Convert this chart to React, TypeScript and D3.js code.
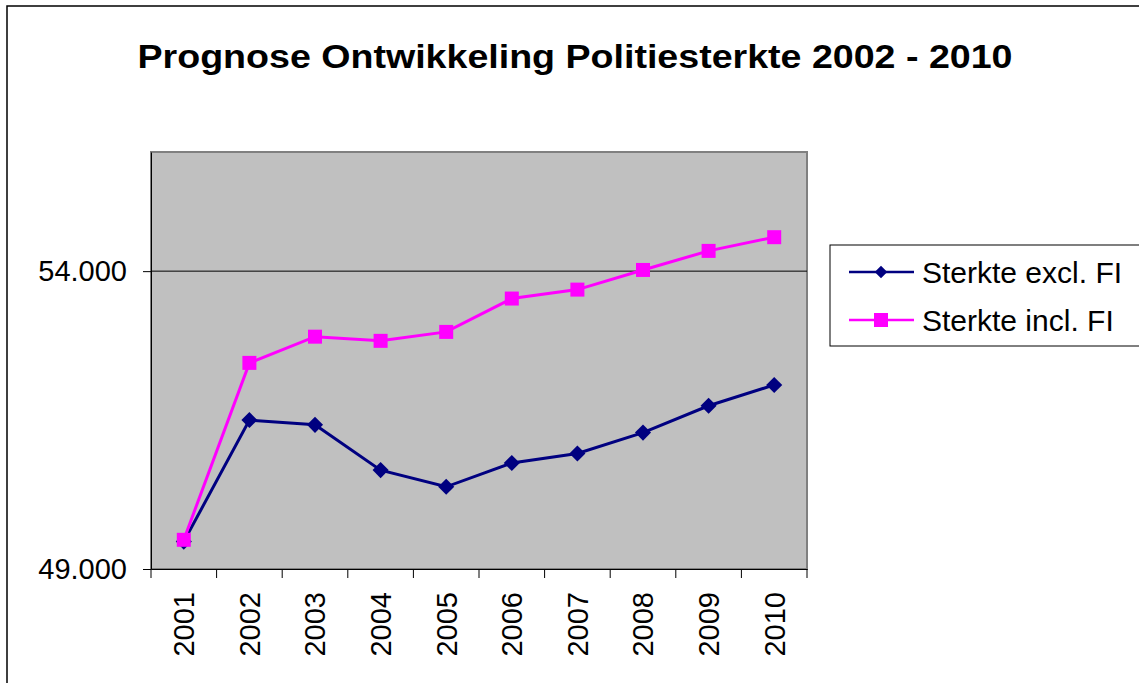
import React, { useEffect, useRef } from 'react';
import * as d3 from 'd3';

const years = ['2001', '2002', '2003', '2004', '2005', '2006', '2007', '2008', '2009', '2010'];
const excl = [49460, 51500, 51420, 50660, 50380, 50780, 50940, 51290, 51740, 52090];
const incl = [49490, 52460, 52900, 52830, 52980, 53540, 53690, 54020, 54340, 54570];
const yTicks = [49000, 54000];
const seriesNames = ['Sterkte excl. FI', 'Sterkte incl. FI'];

const App: React.FC = () => {
  const svgRef = useRef<SVGSVGElement>(null);

  useEffect(() => {
    if (!svgRef.current) return;
    const svg = d3.select(svgRef.current);
    svg.selectAll('*').remove();

    const width = 1139;
    const height = 683;
    const plot = { left: 151, right: 807, top: 152, bottom: 569 };
    const font = 'Liberation Sans, Arial, sans-serif';

    svg.attr('width', width).attr('height', height);
    svg.append('rect').attr('width', width).attr('height', height).attr('fill', '#fff');

    // outer chart border (right/bottom run off the picture)
    svg.append('rect')
      .attr('x', 7).attr('y', 6).attr('width', 1150).attr('height', 700)
      .attr('fill', 'none').attr('stroke', '#000').attr('stroke-width', 1.5);

    // title
    svg.append('text')
      .attr('x', 575).attr('y', 68)
      .attr('text-anchor', 'middle')
      .attr('font-family', font).attr('font-weight', 'bold').attr('font-size', 34)
      .attr('textLength', 875).attr('lengthAdjust', 'spacingAndGlyphs')
      .text('Prognose Ontwikkeling Politiesterkte 2002 - 2010');

    const x = d3.scaleBand().domain(years).range([plot.left, plot.right]).padding(0);
    const y = d3.scaleLinear().domain([49000, 56000]).range([plot.bottom, plot.top]);
    const cx = (d: string) => x(d)! + x.bandwidth() / 2;

    // plot area
    svg.append('rect')
      .attr('x', plot.left).attr('y', plot.top)
      .attr('width', plot.right - plot.left).attr('height', plot.bottom - plot.top)
      .attr('fill', '#c0c0c0').attr('stroke', '#808080').attr('stroke-width', 2);

    // gridline
    svg.append('line')
      .attr('x1', plot.left).attr('x2', plot.right)
      .attr('y1', y(54000)).attr('y2', y(54000))
      .attr('stroke', '#000').attr('stroke-width', 1);

    // y axis
    const yAxis = svg.append('g')
      .attr('transform', `translate(${plot.left},0)`)
      .call(d3.axisLeft(y).tickValues(yTicks).tickSize(8).tickSizeOuter(0).tickPadding(16)
        .tickFormat(d => d3.format(',')(d as number).replace(',', '.')));
    yAxis.select('.domain').attr('stroke', '#000').attr('stroke-width', 1);
    yAxis.selectAll('.tick line').attr('stroke', '#000');
    yAxis.selectAll('.tick text')
      .attr('font-family', font).attr('font-size', 29).attr('fill', '#000');

    // x axis
    const xAxis = svg.append('g')
      .attr('transform', `translate(0,${plot.bottom})`)
      .call(d3.axisBottom(x).tickSize(0).tickSizeOuter(0));
    xAxis.select('.domain').attr('stroke', '#000').attr('stroke-width', 1);
    xAxis.selectAll('.tick text')
      .attr('font-family', font).attr('font-size', 29).attr('fill', '#000')
      .attr('transform', 'rotate(-90)')
      .attr('text-anchor', 'end')
      .attr('x', -23).attr('y', 0).attr('dy', '0.36em');
    // boundary ticks between categories
    const bounds = years.map(d => x(d)!).concat([plot.right]);
    svg.append('g').selectAll('line').data(bounds).enter().append('line')
      .attr('x1', d => d).attr('x2', d => d)
      .attr('y1', plot.bottom).attr('y2', plot.bottom + 9)
      .attr('stroke', '#000').attr('stroke-width', 1);

    const line = d3.line<number>()
      .x((_, i) => cx(years[i]))
      .y(d => y(d));

    // excl. series (navy, diamonds)
    svg.append('path').datum(excl)
      .attr('d', line).attr('fill', 'none').attr('stroke', '#000080').attr('stroke-width', 3);
    const diamond = d3.symbol().type(d3.symbolDiamond2).size(165);
    svg.append('g').selectAll('path').data(excl).enter().append('path')
      .attr('d', diamond)
      .attr('transform', (d, i) => `translate(${cx(years[i])},${y(d)})`)
      .attr('fill', '#000080');

    // incl. series (magenta, squares)
    svg.append('path').datum(incl)
      .attr('d', line).attr('fill', 'none').attr('stroke', '#ff00ff').attr('stroke-width', 3);
    svg.append('g').selectAll('rect').data(incl).enter().append('rect')
      .attr('x', (d, i) => cx(years[i]) - 7).attr('y', d => y(d) - 7)
      .attr('width', 14).attr('height', 14)
      .attr('fill', '#ff00ff');

    // legend
    const lg = svg.append('g');
    lg.append('rect')
      .attr('x', 830).attr('y', 245).attr('width', 320).attr('height', 101)
      .attr('fill', '#fff').attr('stroke', '#000').attr('stroke-width', 1);
    const colors = ['#000080', '#ff00ff'];
    const legendDiamond = d3.symbol().type(d3.symbolDiamond2).size(100);
    seriesNames.forEach((name, i) => {
      const ly = 272 + i * 48;
      lg.append('line')
        .attr('x1', 849).attr('x2', 914).attr('y1', ly).attr('y2', ly)
        .attr('stroke', colors[i]).attr('stroke-width', 2.5);
      if (i === 0) {
        lg.append('path')
          .attr('d', legendDiamond)
          .attr('transform', `translate(881,${ly})`)
          .attr('fill', colors[i]);
      } else {
        lg.append('rect')
          .attr('x', 874).attr('y', ly - 7).attr('width', 14).attr('height', 14)
          .attr('fill', colors[i]);
      }
      lg.append('text')
        .attr('x', 922).attr('y', ly).attr('dy', '0.36em')
        .attr('font-family', font).attr('font-size', 30).attr('fill', '#000')
        .text(name);
    });
  }, []);

  return (
    <svg ref={svgRef} style={{ position: 'absolute', left: 0, top: 0, display: 'block' }} />
  );
};

export default App;
